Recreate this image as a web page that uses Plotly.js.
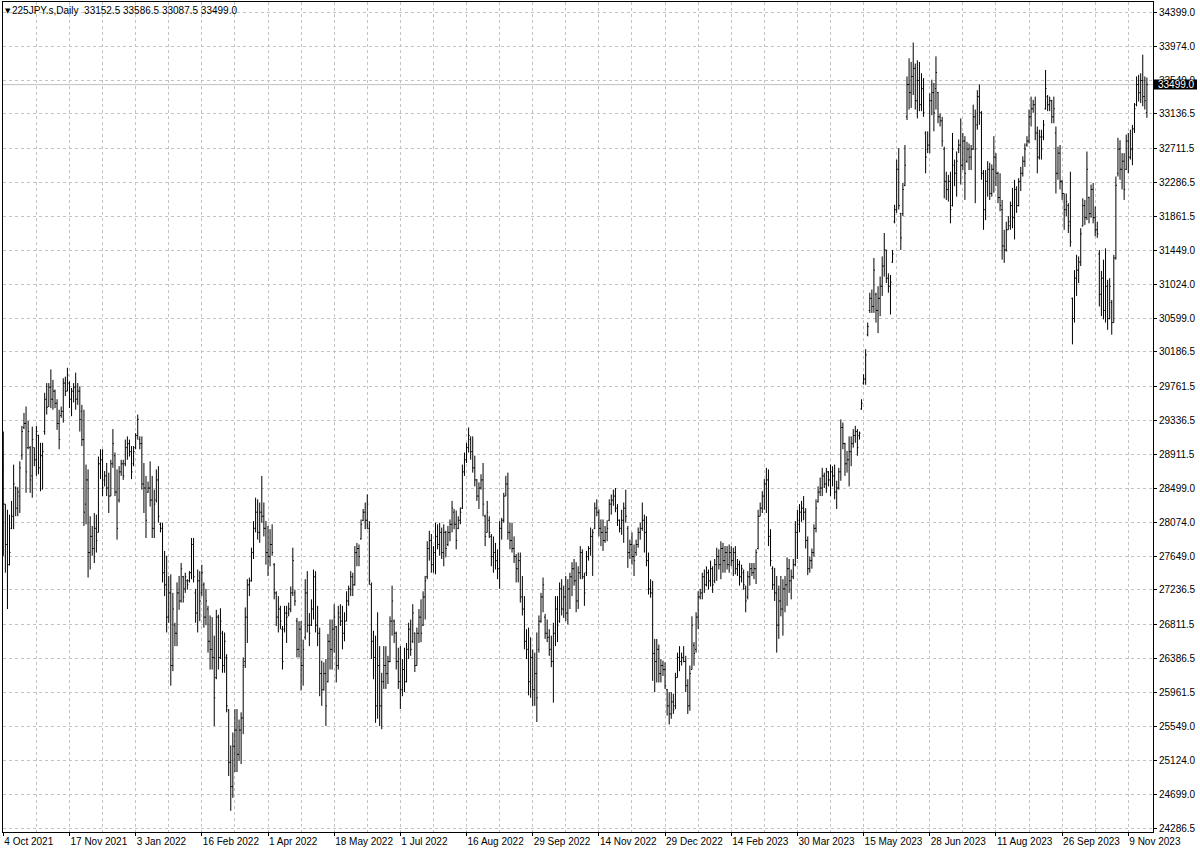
<!DOCTYPE html>
<html>
<head>
<meta charset="utf-8">
<script src="https://cdn.plot.ly/plotly-3.0.1.min.js"></script>
<style>
html,body{margin:0;padding:0;background:#ffffff;}
#chart{width:1200px;height:853px;}
</style>
</head>
<body>
<div id="chart"></div>
<script>
// ---------- data ----------
const symbolName = "225JPY.s,Daily";

const dateLabels = ["4 Oct 2021","17 Nov 2021","3 Jan 2022","16 Feb 2022","1 Apr 2022","18 May 2022",
  "1 Jul 2022","16 Aug 2022","29 Sep 2022","14 Nov 2022","29 Dec 2022","14 Feb 2023","30 Mar 2023",
  "15 May 2023","28 Jun 2023","11 Aug 2023","26 Sep 2023","9 Nov 2023"];

const priceTicks = [24286.5,24699.0,25124.0,25549.0,25961.5,26386.5,26811.5,27236.5,27649.0,28074.0,
  28499.0,28911.5,29336.5,29761.5,30186.5,30599.0,31024.0,31449.0,31861.5,32286.5,32711.5,33136.5,
  33549.0,33974.0,34399.0];

const open = [
28750,28300,27800,27550,28000,28150,28500,28250,28400,28900,29250,29300,29000,29000,28650,29000,
28850,29150,28750,28900,29200,29600,29510,29750,29600,29700,29550,29300,29400,29450,29800,29700,
29800,29600,29700,29750,29600,29700,29450,29100,28300,28600,27700,27900,27750,28000,27950,28800,
28850,28600,28650,28500,28400,28800,28900,28450,28350,28700,28800,28800,29000,29050,28950,28800,
29000,29150,29100,29050,28550,28500,28450,28500,28350,28000,28350,28600,28050,28000,27450,27300,
26900,27200,26300,26800,26700,27200,27100,27400,27250,27350,27350,27450,27800,27200,26950,27350,
27200,27300,26900,27000,26600,26500,26400,26150,26900,26400,26700,26300,26400,25750,25100,24800,
25300,25500,25200,25500,25650,26350,26900,27300,27350,27700,28000,28200,27950,28200,28150,28000,
27700,27650,27800,27550,27200,26900,27000,26750,26750,26950,26950,27000,27200,27200,26850,26500,
26750,26300,26650,27200,26800,26800,27000,27400,26800,26700,26200,26000,26200,26100,26600,26500,
26750,26780,26300,26900,26850,26700,26850,27100,27250,27400,27300,27700,27750,27870,28100,28200,
28100,28000,27300,26600,26400,25800,26300,25800,26100,26300,26200,26350,26850,26850,26700,26350,
26100,26000,26250,26100,26500,26750,26600,26700,26300,26700,26900,26800,27150,27400,27750,27850,
27550,27700,27900,27800,27950,27700,27950,27800,27950,28050,28200,28050,28000,28100,28250,28700,
28850,29000,29100,28950,28750,28600,28400,28500,28600,28150,27950,28100,27900,27650,27700,27600,
27500,28000,28100,28400,28550,27950,27850,27750,27650,27500,27600,27150,27000,26600,26500,26100,
26400,26000,26200,26500,26850,27150,26900,26700,26650,26500,26350,26700,27000,26850,27250,27000,
27150,26950,27250,27400,27500,27350,27100,27450,27700,27400,27450,27650,27750,27900,28000,28250,
28200,28000,27950,27850,27950,28100,28300,28350,28400,28250,28100,28000,28100,28250,28000,27700,
27800,27650,27700,27800,27950,28000,28100,27950,27600,27250,27200,26450,26350,26500,26200,26300,
26250,26000,25800,25700,25850,25800,26150,26400,26350,26400,26350,26050,25800,26250,26550,26500,
26900,27150,27200,27400,27300,27450,27350,27500,27350,27550,27650,27550,27750,27600,27700,27550,
27700,27600,27700,27500,27550,27400,27450,27250,27150,27400,27500,27450,27500,27750,28150,28250,
28400,28550,28600,27900,27500,27300,27200,26800,27100,27000,27250,27300,27500,27350,27400,27550,
27950,28050,28200,28250,28200,27850,27500,27600,27700,28000,28330,28450,28500,28650,28550,28700,
28600,28700,28650,28450,28500,28700,29250,29050,28800,28850,28950,29050,29150,29200,29150,29480,
29800,29850,30400,30700,30850,30750,30900,30700,30850,31000,31250,31450,31100,31000,31300,31800,
31950,32450,31900,31900,32250,33100,33500,33400,33600,33700,33300,33550,33250,33450,32900,32700,
32750,33300,33400,33450,33400,33100,33050,32700,32300,32200,32300,32000,32500,32400,32700,32750,
32500,32800,32550,32700,32600,32700,33100,33000,33350,33150,32400,31950,32300,32450,32150,32450,
32600,32400,32100,31950,31500,31450,31700,31750,32000,31850,32200,32000,32300,32400,32550,32750,
32800,33100,33200,33250,32900,32600,32850,32850,33200,33350,33250,33300,33100,32900,32400,32650,
32300,32150,31950,32000,31800,30850,30600,31100,31200,31300,31750,32000,31850,32100,31900,32200,
31850,31700,31400,30900,31100,30700,31000,30600,30800,30550,31350,32400,32700,32450,32550,32450,
32800,32600,32700,32950,33250,33500,33400,33550,33350,33152.5];

const high = [
29200,28300,28230,28170,28340,28790,28520,28510,28830,29270,29430,29510,29330,29020,29260,29000,
29270,29160,29060,29060,29680,29800,29800,29970,29840,29720,29600,29470,29510,29860,29880,29990,
29820,29740,29800,29930,29800,29760,29530,29470,28790,28730,28150,28030,28190,28170,28890,28980,
28980,28710,28810,28690,28850,29230,28940,28730,28770,28850,28850,29100,29140,29100,29020,29020,
29180,29410,29140,29140,28810,28650,28580,28830,28650,28480,28730,28770,28070,28070,27720,27660,
27410,27430,27200,26830,27330,27410,27570,27410,27450,27370,27470,27880,27880,27250,27490,27470,
27550,27330,27250,27040,26920,26900,26670,26990,26930,27010,26730,26710,26440,25760,25310,25470,
25760,25760,25630,25720,26400,27020,27370,27390,27760,28090,28380,28360,28320,28650,28320,28090,
28030,27990,28050,27570,27220,27160,27040,26790,27040,27040,27080,27280,27760,27240,26890,26850,
26850,26620,27370,27470,26950,27120,27490,27470,27040,26770,26360,26340,26380,26690,26870,26870,
27060,26790,27040,27060,27040,26960,27220,27290,27470,27450,27780,27820,27800,28110,28240,28320,
28420,28090,27330,26730,26670,26960,26540,26210,26540,26540,26420,26910,27290,26870,26720,26520,
26540,26380,26520,26580,26830,26870,27060,26710,26770,27000,27120,27220,27410,27840,27970,27930,
27780,28070,28050,28070,28010,28050,27970,28030,28110,28340,28240,28220,28150,28260,28790,28940,
29060,29250,29140,29140,28900,28610,28570,28670,28810,28170,28340,28150,27930,27900,27820,27740,
28090,28130,28440,28650,28690,28070,28070,27900,27680,27700,27700,27410,27160,26750,26770,26650,
26500,26460,26710,26920,27200,27390,26940,26870,26750,26670,26830,27160,27160,27330,27370,27290,
27410,27370,27450,27580,27620,27580,27530,27780,27740,27450,27720,27780,28010,27990,28320,28360,
28235,28110,28110,28030,28100,28360,28420,28480,28500,28300,28110,28230,28320,28480,28030,27860,
27950,27800,27860,28010,28070,28320,28170,28150,27700,27370,27350,26630,26630,26560,26380,26360,
26340,26010,25970,25970,25950,26210,26460,26540,26460,26540,26420,26130,26300,26910,26590,26960,
27220,27250,27450,27490,27530,27490,27600,27530,27620,27760,27740,27840,27820,27780,27780,27800,
27780,27760,27780,27620,27600,27550,27490,27290,27470,27570,27570,27570,27740,28230,28320,28460,
28610,28750,28730,27990,27530,27510,27410,27290,27410,27370,27410,27640,27620,27490,27620,28090,
28230,28300,28340,28400,28250,27900,27650,27750,28050,28360,28520,28630,28750,28690,28750,28710,
28790,28770,28790,28590,28750,29350,29310,29060,28960,29140,29140,29230,29270,29230,29200,29600,
29910,30220,30550,30920,30960,31350,30920,31000,31120,31370,31660,31450,31160,31140,31450,32010,
32570,32710,31910,32280,32750,33600,33825,33780,34020,33760,33800,33780,33640,33580,32920,32920,
33390,33560,33520,33850,33410,33140,33100,32730,32420,32380,32420,32900,32570,32670,32820,33080,
32900,32860,32790,32770,32750,33250,33190,33430,33500,33170,32440,32440,32550,32530,32510,32860,
32650,32420,32400,32070,31700,31800,31870,32050,32220,32320,32240,32340,32480,32610,32770,32860,
33190,33350,33310,33350,32980,32940,32940,33060,33680,33370,33350,33310,33350,32980,32730,32750,
32320,32150,32150,32030,32420,30860,31200,31390,31370,31720,32090,32070,32670,32110,32260,32280,
31990,31800,31450,31190,31330,31470,31080,31100,30830,31390,32360,32840,32810,32650,32650,32880,
32900,32940,33000,33270,33600,33620,33640,33870,33600,33586.5];

const low = [
27660,27450,27000,27540,27990,27990,28150,28150,28190,28850,29230,28440,28980,28440,28380,28770,
28650,28670,28460,28480,29160,29410,29510,29490,29470,29490,29220,28980,29370,29310,29640,29700,
29490,29390,29560,29470,29530,29200,29020,28030,28050,27390,27490,27660,27570,27700,27950,28610,
28400,28520,28400,28190,28400,28750,28400,27860,28320,28650,28600,28770,28850,28890,28610,28770,
28980,29100,28980,28480,28190,27880,28440,28270,27880,27880,28320,28070,27950,27330,27160,26710,
26830,26050,26230,26540,26540,26990,27080,27080,27200,27240,27330,27370,27330,26830,26710,26850,
27160,26770,26800,26460,26250,26250,25550,26130,26250,26380,26210,26210,25720,24930,24500,24660,
24980,24980,25120,25080,25450,26270,26580,27160,27340,27620,27950,27860,27820,28070,27900,27550,
27410,27530,27660,27120,26790,26710,26750,26250,26710,26580,26910,26960,27160,27040,26400,26400,
25990,26050,26620,26710,26540,26790,26870,26710,26540,25920,25800,25990,25550,26090,26250,26250,
26460,26090,26250,26790,26500,26600,26850,27040,27160,27160,27290,27530,27530,27860,28090,27990,
27990,27300,26380,26130,25590,25640,25550,25510,26010,26010,26070,26340,26670,26580,26250,26010,
25760,25920,25970,26090,26380,26420,26580,26220,26300,26580,26590,26790,26870,27370,27600,27450,
27450,27430,27740,27660,27620,27530,27640,27780,27840,27950,27990,27740,27990,28050,28240,28650,
28810,28940,28850,28690,28520,28340,28240,28480,28150,27780,27950,27880,27530,27450,27490,27370,
27250,27860,28070,28400,27860,27740,27700,27570,27330,27330,27080,26920,26500,26380,25930,25900,
25800,25800,25600,26460,26830,26960,26630,26590,26420,26280,25840,26540,26590,26830,26920,26890,
26850,26810,27000,27160,27290,26960,27000,27370,27370,27040,27410,27600,27660,27410,27990,28150,
27900,27780,27720,27820,27840,28090,28170,28280,28200,28030,27950,27920,27820,28070,27510,27620,
27550,27410,27660,27760,27860,27970,27700,27530,27180,27140,26110,25970,26090,26090,26090,26170,
26010,25680,25570,25640,25700,25760,26150,26230,26300,26340,25970,25700,25740,26250,26300,26460,
26750,27120,27120,27200,27280,27240,27280,27200,27320,27350,27490,27370,27450,27450,27490,27450,
27530,27410,27430,27410,27290,27330,27240,26960,27120,27290,27410,27370,27310,27740,28150,28190,
28230,28190,27780,27530,27240,27100,26460,26630,26910,26670,26960,27040,27200,27120,27370,27530,
27620,27950,28080,28100,27750,27420,27450,27500,27650,27950,28320,28400,28400,28500,28440,28520,
28400,28520,28360,28240,28480,28590,28980,28650,28690,28520,28770,29000,29060,28900,29100,29470,
29780,29780,30380,30670,30670,30670,30550,30420,30630,30880,31120,31040,30920,30650,31290,31780,
31910,31950,31450,31870,32240,33060,33190,33210,33370,33190,33080,33170,33170,33100,32400,32650,
32650,33120,32920,33190,33020,32980,32730,32090,32070,32050,31780,31990,32240,32110,32650,32260,
32440,32070,32530,32440,32440,32690,32030,32940,33000,32320,31700,31820,32110,32070,32110,32160,
32240,32030,31930,31330,31290,31430,31700,31700,31720,31580,31910,31990,32180,32360,32480,32730,
32770,32980,33150,32810,32400,32570,32570,32810,33190,33170,33170,33020,33020,32150,32320,32200,
32070,31700,31870,31660,31490,30280,30550,30880,31040,31250,31740,31760,31820,31780,31850,31780,
31620,31600,30750,30630,30590,30550,30460,30590,30400,30550,31330,32360,32320,32200,32070,32440,
32400,32570,32500,32900,33230,33290,33270,33230,33190,33087.5];

const close = [
28300,27800,27550,27700,28150,28550,28250,28450,28750,29200,29300,28700,29200,28600,29100,28850,
29200,28750,28900,28950,29600,29500,29750,29600,29700,29550,29300,29100,29450,29800,29700,29900,
29600,29700,29750,29600,29700,29350,29100,28200,28600,27700,27900,27750,28000,27850,28800,28850,
28500,28650,28500,28400,28800,29050,28450,28000,28700,28800,28650,29000,29050,28950,28700,28950,
29150,29350,29050,28550,28500,28100,28500,28350,28000,28300,28600,28150,28000,27450,27300,26900,
27200,26300,27000,26700,27200,27100,27500,27150,27400,27300,27450,27800,27400,26950,27350,27100,
27450,26900,27100,26600,26500,26400,25900,26900,26400,26850,26300,26600,25800,25100,24800,25300,
25500,25200,25500,25650,26300,26900,27300,27350,27700,28000,28200,27950,28200,28150,28000,27700,
27650,27800,27700,27200,26900,27000,26850,26350,26950,26900,27000,27200,27600,27100,26500,26750,
26300,26500,27200,26800,26700,27000,27400,26800,26700,26200,26000,26200,25800,26600,26500,26750,
26900,26300,26950,26850,26700,26850,27100,27250,27400,27300,27700,27750,27650,28050,28200,28100,
28300,27350,26600,26400,25800,26300,25800,26100,26300,26200,26350,26850,27100,26700,26350,26100,
26000,26250,26100,26500,26750,26500,26950,26300,26700,26900,26700,27150,27350,27750,27850,27550,
27700,27900,27800,27950,27700,27950,27750,27950,28050,28250,28050,27850,28100,28200,28700,28850,
29000,29150,28950,28750,28600,28400,28500,28600,28300,27900,28200,27950,27650,27700,27600,27500,
28000,28100,28400,28550,27950,27850,27750,27650,27500,27600,27150,27000,26600,26500,26100,26400,
26000,26200,25900,26850,27150,27300,26700,26650,26500,26350,26700,27000,26800,27250,27000,27150,
26950,27250,27400,27500,27350,27100,27450,27700,27400,27200,27650,27750,27900,27950,28250,28200,
28000,27950,27850,27950,28000,28300,28350,28400,28250,28100,28000,28100,28250,28150,27700,27800,
27650,27600,27800,27950,28000,28100,27950,27600,27250,27200,26450,26350,26500,26200,26300,26250,
26050,25800,25700,25850,25750,26150,26400,26350,26400,26350,26050,25800,26200,26800,26450,26900,
27150,27200,27400,27300,27450,27350,27500,27300,27550,27650,27550,27750,27600,27700,27550,27700,
27600,27700,27500,27550,27400,27500,27300,27100,27400,27500,27450,27500,27700,28150,28250,28400,
28550,28600,27900,27600,27300,27200,26800,27100,27000,27250,27300,27500,27350,27400,27550,27950,
28100,28200,28250,28200,27850,27500,27600,27700,28000,28250,28450,28500,28650,28550,28700,28600,
28700,28650,28450,28500,28700,29250,29050,28800,28850,28950,29050,29150,29200,29000,29180,29550,
29850,30150,30500,30850,30750,31200,30700,30850,31000,31250,31450,31100,31000,31050,31400,31950,
32450,32000,31600,32200,32500,33500,33400,33600,33700,33300,33550,33250,33450,33150,32600,32750,
33300,33400,33150,33650,33100,33050,32800,32300,32200,32300,31950,32700,32400,32550,32750,32500,
32800,32400,32700,32600,32700,33100,32700,33350,33150,32400,31950,32300,32450,32150,32450,32600,
32400,32100,32000,31500,31450,31700,31800,32000,31850,32200,32000,32300,32400,32550,32700,32800,
33100,33200,33250,32900,32600,32850,32700,33000,33450,33250,33300,33100,33200,32400,32650,32300,
32150,31950,32050,31750,31550,30600,31100,31200,31300,31650,32000,31850,32450,31900,32200,31850,
31700,31650,30900,31100,30700,31000,30600,31000,30550,31350,32250,32700,32450,32550,32200,32800,
32600,32700,32950,33200,33500,33400,33550,33350,33300,33499.0];

// ---------- chart ----------
const N = close.length;
const barIndex = Array.from({length: N}, (_, i) => i);
const LABEL_EVERY = 32;   // bars between date labels
const GRID_EVERY = 16;    // bars between vertical grid lines
const tickIdx = dateLabels.map((_, k) => k * LABEL_EVERY);
const minorIdx = [];
for (let v = GRID_EVERY; v < N; v += LABEL_EVERY) minorIdx.push(v);

const Y_MIN = 24236.9, Y_MAX = 34522.9;
const X_MIN = -0.145, X_MAX = 555.95;
const gridColor = '#c3c3c3';
const gridDash = '3px,3px';
const last = N - 1;
const lastClose = close[last];
const fmt = v => Number(v).toFixed(1);
const FONT = '"Liberation Sans", Arial, sans-serif';

const trace = {
  type: 'ohlc',
  x: barIndex,
  open: open, high: high, low: low, close: close,
  increasing: {line: {color: '#000000', width: 1}},
  decreasing: {line: {color: '#000000', width: 1}},
  tickwidth: 0.5,
  hoverinfo: 'skip',
  showlegend: false
};

const lastFrac = (lastClose - Y_MIN) / (Y_MAX - Y_MIN);
const plotW = 1150, plotH = 830;

const layout = {
  width: 1200, height: 853,
  margin: {l: 3, r: 47, t: 2, b: 21, pad: 0},
  paper_bgcolor: '#ffffff',
  plot_bgcolor: '#ffffff',
  font: {family: FONT, size: 10, color: '#000000'},
  showlegend: false,
  xaxis: {
    type: 'linear',
    range: [X_MIN, X_MAX],
    fixedrange: true,
    rangeslider: {visible: false},
    tickmode: 'array',
    tickvals: tickIdx,
    ticktext: dateLabels,
    tickangle: 0,
    ticks: 'outside', ticklen: 3, tickwidth: 1, tickcolor: '#000000',
    ticklabelposition: 'outside right',
    tickfont: {family: FONT, size: 10, color: '#000000'},
    showline: true, linecolor: '#000000', linewidth: 1, mirror: true,
    showgrid: true, gridcolor: gridColor, gridwidth: 1, griddash: gridDash,
    zeroline: false,
    minor: {tickmode: 'array', tickvals: minorIdx, showgrid: true, gridcolor: gridColor,
            gridwidth: 1, griddash: gridDash, ticks: ''}
  },
  yaxis: {
    side: 'right',
    range: [Y_MIN, Y_MAX],
    fixedrange: true,
    tickmode: 'array',
    tickvals: priceTicks,
    ticktext: priceTicks.map(fmt),
    tickangle: 0,
    ticks: 'outside', ticklen: 3, tickwidth: 1, tickcolor: '#000000',
    tickfont: {family: FONT, size: 10, color: '#000000'},
    showline: true, linecolor: '#000000', linewidth: 1, mirror: true,
    showgrid: true, gridcolor: gridColor, gridwidth: 1, griddash: gridDash,
    zeroline: false
  },
  shapes: [
    {type: 'line', layer: 'below', xref: 'paper', yref: 'y', x0: 0, x1: 1,
     y0: lastClose, y1: lastClose, line: {color: '#c0c0c0', width: 1}},
    {type: 'rect', layer: 'above', xref: 'paper', yref: 'paper',
     x0: 1, x1: 1 + 44 / plotW, y0: lastFrac - 5 / plotH, y1: lastFrac + 5 / plotH,
     fillcolor: '#000000', line: {width: 0}}
  ],
  annotations: [
    {xref: 'paper', yref: 'paper', x: 1, y: lastFrac, xanchor: 'left', yanchor: 'middle',
     xshift: 3, text: fmt(lastClose), showarrow: false,
     font: {family: FONT, size: 10, color: '#ffffff'}},
    {xref: 'paper', yref: 'paper', x: 0, y: 1, xanchor: 'left', yanchor: 'top',
     xshift: 0, yshift: -3, text: '▼', showarrow: false,
     font: {family: '"DejaVu Sans", sans-serif', size: 7, color: '#000000'}},
    {xref: 'paper', yref: 'paper', x: 0, y: 1, xanchor: 'left', yanchor: 'top',
     xshift: 7, yshift: -1, showarrow: false,
     text: symbolName + '  ' + [open[last], high[last], low[last], close[last]].map(fmt).join(' '),
     font: {family: FONT, size: 10, color: '#000000'}}
  ]
};

Plotly.newPlot('chart', [trace], layout, {staticPlot: true, displayModeBar: false});
</script>
</body>
</html>
